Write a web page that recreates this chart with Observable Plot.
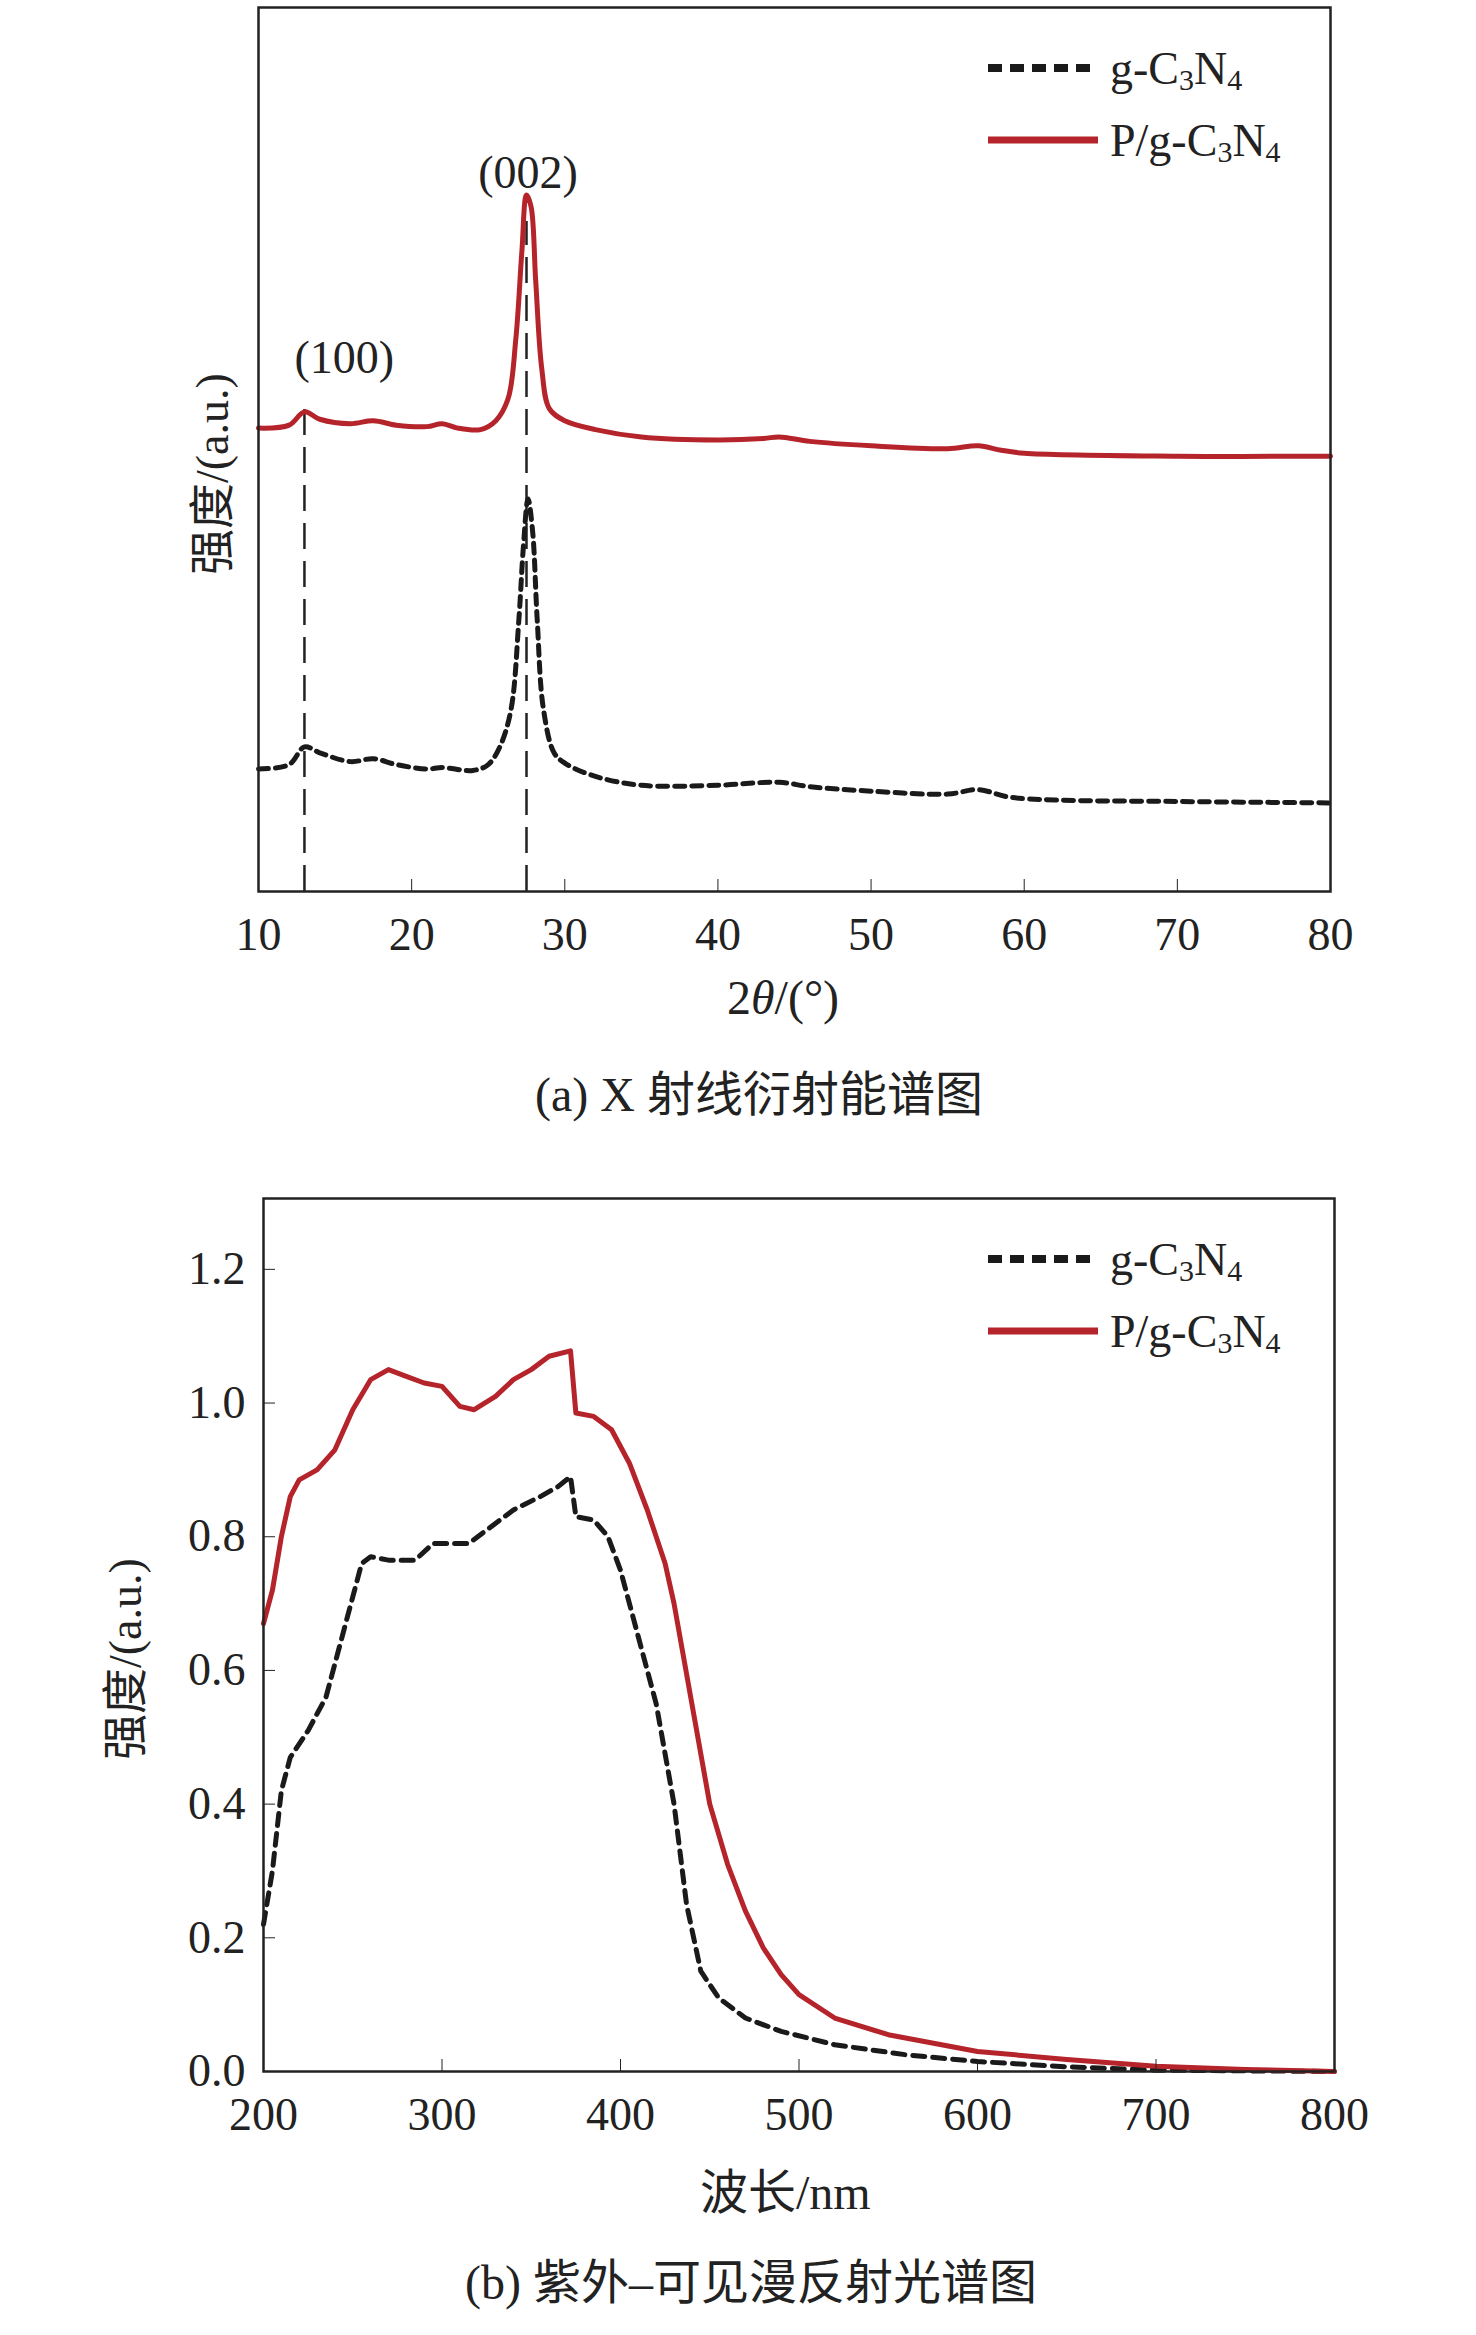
<!DOCTYPE html>
<html><head><meta charset="utf-8">
<script src="https://cdn.jsdelivr.net/npm/d3@7"></script>
<script src="https://cdn.jsdelivr.net/npm/@observablehq/plot@0.6"></script>
<style>
body{margin:0;background:#fff;font-family:"Liberation Serif","Noto Sans CJK SC",serif;}
#wrap{position:relative;width:1476px;height:2335px;overflow:hidden;}
.abs{position:absolute;}
.cap{font-size:48px;white-space:nowrap;color:#222;}
.leg{font-size:46px;display:flex;align-items:center;height:60px;white-space:nowrap;color:#222}
.leg .s{font-size:30px;position:relative;top:12px}
.ylab{font-size:46px;transform:rotate(-90deg);transform-origin:left top;white-space:nowrap;color:#222}
</style></head><body><div id="wrap"></div>
<script>
// ---------- (a) XRD data: intensity arbitrary units ----------
const xrdTheta = [10,12,13,14,16,17.5,19,21,22,23,24.5,25.5,26.3,26.8,27.2,27.5,27.8,28.1,28.5,29,30,32,35,40,43,44,46,50,55,57,58.5,60,70,80];
const xrdP =     [314,316,325,320,317,319,316,315,317,314,313,319,334,374,434,472,464,414,354,327,319,313,308,306,307,308,305,302,300,302,299,297,295,295];
const xrdThetaG = [10,12,13,14,16,17.5,19,21,22,24,25,25.8,26.5,27,27.3,27.6,27.9,28.2,28.6,29.3,30,32,35,40,44,46,50,55,57,59,62,70,80];
const xrdG =      [83,86,98,94,88,90,86,83,84,82,86,99,124,184,234,266,244,184,124,94,87,78,72,72,74,71,68,66,69,64,62,61,60];
const peakTheta = [13,27.5];
const peakTop =   [329,454];
const peakLabels = ["(100)","(002)"];
const peakLabelX = [15.6,27.6];
const peakLabelY = [361,487];
const xTicksA = [10,20,30,40,50,60,70,80];

// ---------- (b) UV-vis data ----------
const wlP = [200,205,210,215,220,230,240,250,260,270,280,290,300,310,318,330,340,350,360,372,375,385,395,405,415,425,430,440,450,460,470,480,490,500,520,550,600,650,700,750,800];
const absP = [0.67,0.72,0.80,0.86,0.885,0.90,0.93,0.99,1.035,1.05,1.04,1.03,1.025,0.995,0.99,1.01,1.035,1.05,1.07,1.078,0.985,0.98,0.96,0.91,0.84,0.76,0.70,0.55,0.40,0.31,0.24,0.185,0.145,0.115,0.08,0.055,0.03,0.018,0.008,0.003,0.0];
const wlG = [200,205,210,215,225,235,245,255,260,270,285,295,305,315,325,340,355,365,372,375,385,393,400,410,420,430,437,445,455,470,490,520,560,600,650,700,800];
const absG = [0.22,0.30,0.42,0.47,0.51,0.56,0.66,0.76,0.77,0.765,0.765,0.79,0.79,0.79,0.81,0.84,0.86,0.875,0.89,0.83,0.825,0.80,0.75,0.65,0.55,0.40,0.25,0.15,0.11,0.08,0.06,0.04,0.025,0.015,0.007,0.002,0.0];
const xTicksB = [200,300,400,500,600,700,800];
const yTicksB = [0,0.2,0.4,0.6,0.8,1.0,1.2];

const RED = "#b5242a";
const wrap = document.getElementById("wrap");
function place(el, x, y){ el.classList.add("abs"); el.style.left=x+"px"; el.style.top=y+"px"; wrap.appendChild(el); return el; }
function div(cls, html, x, y){ const d=document.createElement("div"); d.className=cls; d.innerHTML=html; return place(d,x,y); }

const axisStyle = {fontSize:"46px", fontFamily:"Liberation Serif, serif", color:"#222", background:"transparent", overflow:"visible"};

// ---------- Plot (a) ----------
const dP = xrdTheta.map((t,i)=>({t, v:xrdP[i]}));
const dG = xrdThetaG.map((t,i)=>({t, v:xrdG[i]}));
const dPk = peakTheta.map((t,i)=>({t, top:peakTop[i], lab:peakLabels[i], lx:peakLabelX[i], ly:peakLabelY[i]}));
const pa = Plot.plot({
  width:1476, height:1060, marginLeft:258, marginRight:146, marginTop:7, marginBottom:169,
  style:axisStyle,
  x:{domain:[10,80], label:null}, y:{domain:[0,599], label:null, axis:null},
  marks:[
    Plot.ruleX(dPk,{x:"t", y1:0, y2:"top", stroke:"#222", strokeWidth:2.5, strokeDasharray:"26,12"}),
    Plot.line(dG,{x:"t", y:"v", stroke:"#1a1a1a", strokeWidth:5, strokeDasharray:"10,7", curve:"catmull-rom"}),
    Plot.line(dP,{x:"t", y:"v", stroke:RED, strokeWidth:5, curve:"catmull-rom"}),
    Plot.text(dPk,{x:"lx", y:"ly", text:"lab", fontSize:46, fill:"#222"}),
    Plot.axisX({ticks:xTicksA, tickSize:-12, tickPadding:38, tickFormat:d=>d, label:null}),
    Plot.frame({stroke:"#222", strokeWidth:2.5})
  ]
});
place(pa,0,0);

// ---------- Plot (b) ----------
const bP = wlP.map((w,i)=>({w, a:absP[i]}));
const bG = wlG.map((w,i)=>({w, a:absG[i]}));
const pb = Plot.plot({
  width:1476, height:1060, marginLeft:263, marginRight:142, marginTop:100, marginBottom:87,
  style:axisStyle,
  x:{domain:[200,800], label:null}, y:{domain:[0,1.306], label:null},
  marks:[
    Plot.line(bG,{x:"w", y:"a", stroke:"#1a1a1a", strokeWidth:5, strokeDasharray:"12,8"}),
    Plot.line(bP,{x:"w", y:"a", stroke:RED, strokeWidth:5}),
    Plot.axisX({ticks:xTicksB, tickSize:-12, tickPadding:38, tickFormat:d=>d, label:null}),
    Plot.axisY({ticks:yTicksB, tickSize:-12, tickPadding:30, tickFormat:d=>d.toFixed(1), label:null}),
    Plot.frame({stroke:"#222", strokeWidth:2.5})
  ]
});
place(pb,0,1098);

// ---------- text ----------
div("cap", "2<i>θ</i>/(°)", 727, 970);
div("cap", "(a) X 射线衍射能谱图", 535, 1055);
div("ylab", "强度/(a.u.)", 175, 575);
div("cap", "波长/nm", 700, 2153);
div("cap", "(b) 紫外–可见漫反射光谱图", 465, 2243);
div("ylab", "强度/(a.u.)", 88, 1760);

function legend(y0){
  div("leg", '<svg width="110" height="12" style="margin-right:12px"><line x1="0" y1="6" x2="110" y2="6" stroke="#1a1a1a" stroke-width="8" stroke-dasharray="14,8"/></svg>g-C<span class="s">3</span>N<span class="s">4</span>', 988, y0);
  div("leg", '<svg width="110" height="12" style="margin-right:12px"><line x1="0" y1="6" x2="110" y2="6" stroke="'+RED+'" stroke-width="7"/></svg>P/g-C<span class="s">3</span>N<span class="s">4</span>', 988, y0+72);
}
legend(38);
legend(1229);
</script></body></html>
